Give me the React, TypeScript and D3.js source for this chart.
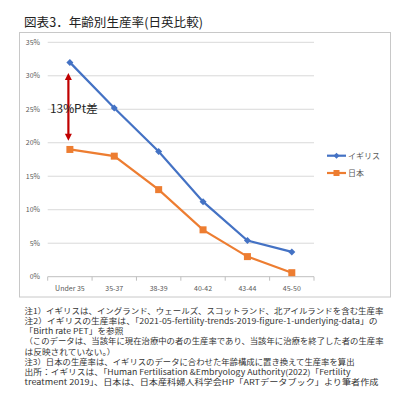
import React from "react";
import * as d3 from "d3";

const categories = ["Under 35", "35-37", "38-39", "40-42", "43-44", "45-50"];
const ukValues = [32.0, 25.2, 18.7, 11.2, 5.4, 3.7];
const japanValues = [19.0, 18.0, 13.0, 7.0, 3.0, 0.6];
const yTicks = [0, 5, 10, 15, 20, 25, 30, 35];
const seriesNames = ["イギリス", "日本"];
const gapLabel = "13%Pt差";
const gapRange = [20.3, 30.4];
const title = "図表3．年齢別生産率(日英比較)";
const notes = [
  "注1）イギリスは、イングランド、ウェールズ、スコットランド、北アイルランドを含む生産率",
  "注2）イギリスの生産率は、「2021-05-fertility-trends-2019-figure-1-underlying-data」の",
  "「Birth rate PET」を参照",
  "（このデータは、当該年に現在治療中の者の生産率であり、当該年に治療を終了した者の生産率",
  "は反映されていない。）",
  "注3）日本の生産率は、イギリスのデータに合わせた年齢構成に置き換えて生産率を算出",
  "出所：イギリスは、「Human Fertilisation &Embryology Authority(2022)「Fertility",
  "treatment 2019」、日本は、日本産科婦人科学会HP「ARTデータブック」より筆者作成",
];
const noteWidths = [359, 353, 99, 359, 91, 330, 326, 354];

const FONT = "'Noto Sans CJK JP', 'Noto Sans', sans-serif";
const BLUE = "#4472C4";
const ORANGE = "#ED7D31";
const RED = "#C00000";

export default function App() {
  const x = d3.scaleBand<string>().domain(categories).range([47.7, 314]);
  const y = d3.scaleLinear().domain([0, 35]).range([276.7, 42.3]);
  const cx = (c: string) => (x(c) as number) + x.bandwidth() / 2;

  const line = d3
    .line<number>()
    .x((_, i) => cx(categories[i]))
    .y((d) => y(d));

  const arrowX = cx(categories[0]) - 1.5;
  const aTop = y(gapRange[1]);
  const aBot = y(gapRange[0]);
  const ah = 7;
  const aw = 3.5;

  const boundaries = d3.range(categories.length + 1).map((i) => 47.7 + i * x.bandwidth());

  return (
    <svg
      width={407}
      height={401}
      style={{ position: "absolute", left: 0, top: 0, background: "#fff" }}
      fontFamily={FONT}
    >
      <rect x={0} y={0} width={407} height={401} fill="#fff" />
      <text x={24} y={27} fontSize={12.5} fill="#222" textLength={179} lengthAdjust="spacingAndGlyphs">
        {title}
      </text>
      <rect x={19.5} y={32.5} width={371} height={264.5} fill="#fff" stroke="#c8c8c8" strokeWidth={1} />

      {yTicks.map((t) => (
        <g key={t}>
          {t > 0 && (
            <line x1={47.7} x2={314} y1={y(t)} y2={y(t)} stroke="#d9d9d9" strokeWidth={1} />
          )}
          <text x={40} y={y(t) + 2.5} fontSize={7} textAnchor="end" fill="#595959">
            {t}%
          </text>
        </g>
      ))}
      <line x1={47.7} x2={314} y1={y(0)} y2={y(0)} stroke="#bfbfbf" strokeWidth={1} />
      {boundaries.map((b, i) => (
        <line key={i} x1={b} x2={b} y1={y(0)} y2={y(0) + 4} stroke="#bfbfbf" strokeWidth={1} />
      ))}
      {categories.map((c) => (
        <text key={c} x={cx(c)} y={291} fontSize={7} textAnchor="middle" fill="#595959">
          {c}
        </text>
      ))}

      <path d={line(japanValues) || ""} fill="none" stroke={ORANGE} strokeWidth={2.2} />
      {japanValues.map((v, i) => (
        <rect key={i} x={cx(categories[i]) - 3.5} y={y(v) - 3.5} width={7} height={7} fill={ORANGE} />
      ))}
      <path d={line(ukValues) || ""} fill="none" stroke={BLUE} strokeWidth={2.2} />
      {ukValues.map((v, i) => {
        const px = cx(categories[i]);
        const py = y(v);
        return (
          <path
            key={i}
            d={`M${px},${py - 3.5}L${px + 3.5},${py}L${px},${py + 3.5}L${px - 3.5},${py}Z`}
            fill={BLUE}
          />
        );
      })}

      <line x1={arrowX} x2={arrowX} y1={aTop + ah - 1} y2={aBot - ah + 1} stroke={RED} strokeWidth={2.2} />
      <path d={`M${arrowX},${aTop}L${arrowX + aw},${aTop + ah}L${arrowX - aw},${aTop + ah}Z`} fill={RED} />
      <path d={`M${arrowX},${aBot}L${arrowX + aw},${aBot - ah}L${arrowX - aw},${aBot - ah}Z`} fill={RED} />
      <text x={50} y={112.5} fontSize={11.5} fill="#222" textLength={48} lengthAdjust="spacingAndGlyphs">
        {gapLabel}
      </text>

      {seriesNames.map((n, i) => {
        const ly = 155.7 + i * 17.3;
        return (
          <g key={n}>
            <line x1={327} x2={346} y1={ly} y2={ly} stroke={i === 0 ? BLUE : ORANGE} strokeWidth={2.2} />
            {i === 0 ? (
              <path d={`M336.5,${ly - 3}L339.5,${ly}L336.5,${ly + 3}L333.5,${ly}Z`} fill={BLUE} />
            ) : (
              <rect x={333.5} y={ly - 3} width={6} height={6} fill={ORANGE} />
            )}
            <text x={348} y={ly + 2.8} fontSize={8} fill="#595959">
              {n}
            </text>
          </g>
        );
      })}

      {notes.map((n, i) => (
        <text
          key={i}
          x={24.5}
          y={314.3 + i * 10.05}
          fontSize={7.8}
          fill="#333"
          textLength={noteWidths[i]}
          lengthAdjust="spacingAndGlyphs"
        >
          {n}
        </text>
      ))}
    </svg>
  );
}
